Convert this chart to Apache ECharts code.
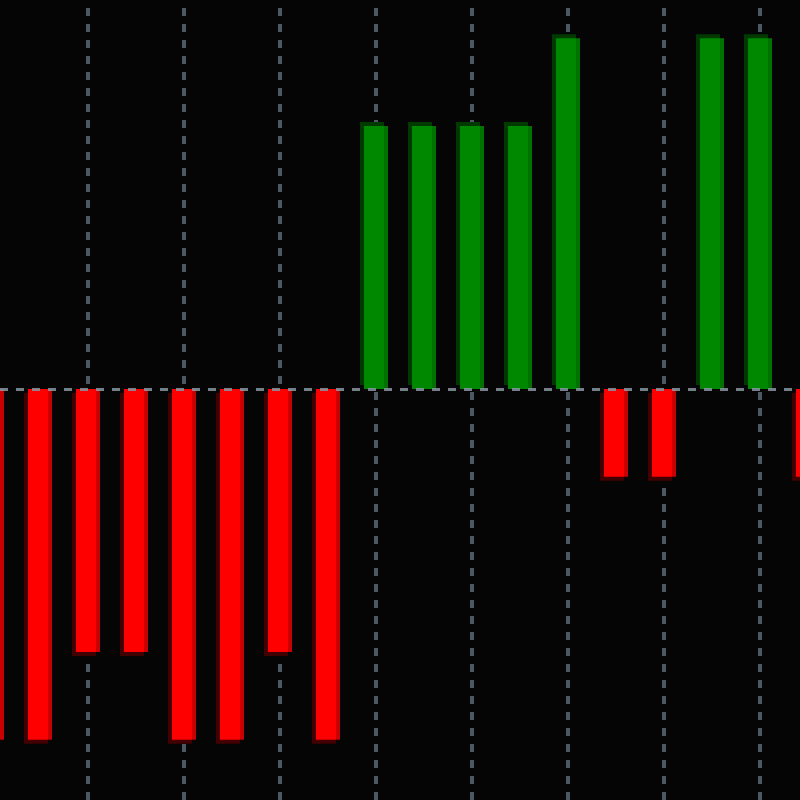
<!DOCTYPE html>
<html>
<head>
<meta charset="utf-8">
<script src="https://cdn.jsdelivr.net/npm/echarts@6/dist/echarts.min.js"></script>
<style>html,body{margin:0;padding:0;background:#050505;}#c{width:800px;height:800px;}</style>
</head>
<body>
<div id="c"></div>
<script>
// Bar index along the x axis (value axis) and the bar values
const positions = [0,1,2,3,4,5,6,7,8,9,10,11,12,13,14,15,16,17];
const values = [-4,-4,-3,-3,-4,-4,-3,-4,3,3,3,3,4,-1,-1,4,4,-1];
// Vertical dotted grid lines sit at every second bar
const gridLinePositions = [2,4,6,8,10,12,14,16];

const chart = echarts.init(document.getElementById('c'), null, {renderer: 'canvas'});

function grad(main, side) {
  return new echarts.graphic.LinearGradient(0, 0, 1, 0, [
    {offset: 0, color: main}, {offset: 0.83, color: main},
    {offset: 0.83, color: side}, {offset: 1, color: side}
  ]);
}

const data = positions.map((p, i) => {
  const v = values[i];
  const up = v >= 0;
  return {
    value: [p, v],
    itemStyle: {
      color: up ? grad('#008800', '#007200') : grad('#ff0000', '#c80000'),
      shadowColor: up ? '#003a00' : '#420000',
      shadowBlur: 0,
      shadowOffsetX: -4,
      shadowOffsetY: up ? -4 : 4
    }
  };
});

chart.setOption({
  backgroundColor: '#050505',
  animation: false,
  grid: {left: 0, right: 0, top: 0, bottom: 0, containLabel: false},
  xAxis: {
    type: 'value', min: 0.1666667, max: 16.8333333,
    axisLine: {show: false}, axisTick: {show: false}, axisLabel: {show: false},
    splitLine: {show: false}
  },
  yAxis: {
    type: 'value', min: -4.6864, max: 4.4356,
    axisLine: {show: false}, axisTick: {show: false}, axisLabel: {show: false},
    splitLine: {show: false}
  },
  series: [{
    type: 'scatter',
    z: 1,
    data: [],
    markLine: {
      silent: true, symbol: 'none', label: {show: false}, z: 1,
      lineStyle: {color: '#4e5864', width: 4, type: [8, 8], opacity: 1},
      data: gridLinePositions.map(p => ({xAxis: p}))
    }
  }, {
    type: 'bar',
    z: 2,
    barWidth: 24,
    data: data,
    markLine: {
      silent: true, symbol: 'none', label: {show: false}, z: 5,
      lineStyle: {color: '#8a96a3', width: 3, type: [8, 8], opacity: 0.85},
      data: [{yAxis: 0}]
    }
  }]
});
</script>
</body>
</html>
